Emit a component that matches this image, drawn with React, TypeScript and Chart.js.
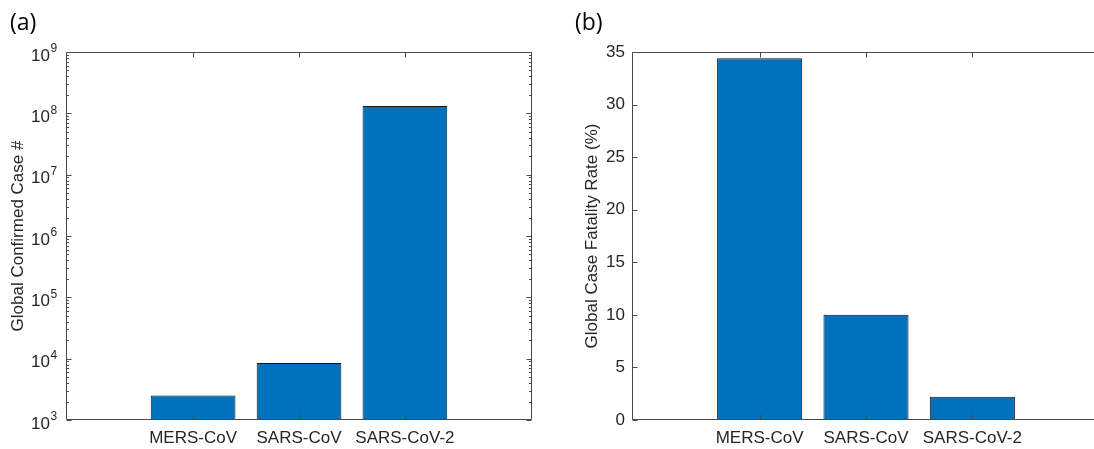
import React, { useEffect, useRef } from 'react';
import { Chart, registerables } from 'chart.js';

Chart.register(...registerables);

// ---- data ----
const categories = ['MERS-CoV', 'SARS-CoV', 'SARS-CoV-2'];
const categoryPositions = [1, 2, 3];
const confirmedCases = [2519, 8500, 132000000];
const fatalityRates = [34.4, 10.0, 2.2];
const logTickExponents = [3, 4, 5, 6, 7, 8, 9];
const fatalityTicks = [0, 5, 10, 15, 20, 25, 30, 35];
const leftTitle = 'Global Confirmed Case #';
const rightTitle = 'Global Case Fatality Rate (%)';
const panelLabels = ['(a)', '(b)'];

const FONT = '"Liberation Sans", Arial, Helvetica, sans-serif';
const TEXT = '#262626';
const AXIS = '#4a4a4a';
const BAR = '#0072BD';
const BAR_EDGE = '#141414';

type FrameOpts = { log: boolean; yValues: number[]; customLogLabels?: boolean };

function makeFramePlugin(opts: FrameOpts) {
  return {
    id: 'matlabFrame',
    afterDatasetsDraw(chart: any) {
      const { ctx, chartArea } = chart;
      const { left, right, top, bottom } = chartArea;
      const xs = chart.scales.x;
      const ys = chart.scales.y;
      const L = Math.round(left) + 0.5;
      const R = Math.round(right) - 0.5;
      const T = Math.round(top) + 0.5;
      const B = Math.round(bottom) - 0.5;
      const major = 5;
      const minor = 2.5;
      ctx.save();
      ctx.strokeStyle = AXIS;
      ctx.lineWidth = 1;
      ctx.beginPath();
      categoryPositions.forEach((v) => {
        const px = Math.round(xs.getPixelForValue(v)) + 0.5;
        ctx.moveTo(px, B);
        ctx.lineTo(px, B - major);
        ctx.moveTo(px, T);
        ctx.lineTo(px, T + major);
      });
      opts.yValues.forEach((v) => {
        const py = Math.round(ys.getPixelForValue(v)) + 0.5;
        ctx.moveTo(L, py);
        ctx.lineTo(L + major, py);
        ctx.moveTo(R, py);
        ctx.lineTo(R - major, py);
      });
      if (opts.log) {
        for (let i = 0; i < opts.yValues.length - 1; i++) {
          for (let m = 2; m <= 9; m++) {
            const py = Math.round(ys.getPixelForValue(opts.yValues[i] * m)) + 0.5;
            ctx.moveTo(L, py);
            ctx.lineTo(L + minor, py);
            ctx.moveTo(R, py);
            ctx.lineTo(R - minor, py);
          }
        }
      }
      ctx.stroke();
      ctx.beginPath();
      ctx.moveTo(L, T);
      ctx.lineTo(R, T);
      ctx.lineTo(R, B);
      ctx.lineTo(L, B);
      ctx.closePath();
      ctx.stroke();

      if (opts.customLogLabels) {
        ctx.fillStyle = TEXT;
        logTickExponents.forEach((e) => {
          const py = ys.getPixelForValue(Math.pow(10, e));
          const xEnd = left - 16;
          ctx.font = `17px ${FONT}`;
          ctx.textAlign = 'right';
          ctx.textBaseline = 'middle';
          ctx.fillText('10', xEnd, py + 4);
          ctx.font = `12px ${FONT}`;
          ctx.textAlign = 'left';
          ctx.fillText(String(e), xEnd + 0.5, py - 3);
        });
      }
      ctx.restore();
    },
  };
}

function xScale(axisHeight: number) {
  return {
    type: 'linear' as const,
    min: -0.2,
    max: 4.2,
    offset: false,
    grid: { display: false, drawTicks: false, offset: false },
    border: { display: false },
    afterBuildTicks: (scale: any) => {
      scale.ticks = categoryPositions.map((v) => ({ value: v }));
    },
    afterFit: (scale: any) => {
      scale.height = axisHeight;
    },
    ticks: {
      autoSkip: false,
      maxRotation: 0,
      padding: 8,
      color: TEXT,
      font: { family: FONT, size: 17 },
      callback: (v: any) => {
        const i = categoryPositions.indexOf(Number(v));
        return i >= 0 ? categories[i] : '';
      },
    },
  };
}

function useChart(ref: React.RefObject<HTMLCanvasElement | null>, build: () => any) {
  useEffect(() => {
    if (!ref.current) return;
    const chart = new Chart(ref.current, build());
    return () => chart.destroy();
  }, []);
}

const barDataset = (values: number[]) => ({
  data: categoryPositions.map((x, i) => ({ x, y: values[i] })),
  backgroundColor: BAR,
  borderColor: BAR_EDGE,
  borderWidth: 1,
  borderSkipped: false,
  barPercentage: 0.8,
  categoryPercentage: 1,
});

export default function App() {
  const leftRef = useRef<HTMLCanvasElement | null>(null);
  const rightRef = useRef<HTMLCanvasElement | null>(null);

  useChart(leftRef, () => ({
    type: 'bar',
    data: { datasets: [barDataset(confirmedCases)] },
    options: {
      responsive: false,
      animation: false,
      layout: { padding: { top: 52, right: 28, left: 0, bottom: 0 } },
      plugins: { legend: { display: false }, tooltip: { enabled: false } },
      scales: {
        x: xScale(29),
        y: {
          type: 'logarithmic',
          min: 1e3,
          max: 1e9,
          grid: { display: false, drawTicks: false },
          border: { display: false },
          ticks: { display: false },
          afterFit: (scale: any) => {
            scale.width = 66;
          },
          title: {
            display: true,
            text: leftTitle,
            color: TEXT,
            font: { family: FONT, size: 17 },
            padding: { top: 8, bottom: 0 },
          },
        },
      },
    },
    plugins: [makeFramePlugin({ log: true, yValues: logTickExponents.map((e) => Math.pow(10, e)), customLogLabels: true })],
  }));

  useChart(rightRef, () => ({
    type: 'bar',
    data: { datasets: [barDataset(fatalityRates)] },
    options: {
      responsive: false,
      animation: false,
      layout: { padding: { top: 52, right: 20, left: 0, bottom: 0 } },
      plugins: { legend: { display: false }, tooltip: { enabled: false } },
      scales: {
        x: xScale(29),
        y: {
          type: 'linear',
          min: 0,
          max: 35,
          grid: { display: false, drawTicks: false },
          border: { display: false },
          afterBuildTicks: (scale: any) => {
            scale.ticks = fatalityTicks.map((v) => ({ value: v }));
          },
          ticks: {
            padding: 7,
            color: TEXT,
            font: { family: FONT, size: 17 },
          },
          afterFit: (scale: any) => {
            scale.width = 72;
          },
          title: {
            display: true,
            text: rightTitle,
            color: TEXT,
            font: { family: FONT, size: 17 },
            padding: { top: 22, bottom: 0 },
          },
        },
      },
    },
    plugins: [makeFramePlugin({ log: false, yValues: fatalityTicks })],
  }));

  const panelStyle: React.CSSProperties = {
    position: 'absolute',
    top: 6,
    fontFamily: '"Open Sans", "Noto Sans", sans-serif',
    fontSize: 23,
    lineHeight: '30px',
    color: '#000',
  };

  return (
    <div
      style={{
        position: 'fixed',
        left: 0,
        top: 0,
        width: 1094,
        height: 449,
        overflow: 'hidden',
        background: '#fff',
      }}
    >
      <canvas
        ref={leftRef}
        width={560}
        height={449}
        style={{ position: 'absolute', left: 0, top: 0, width: 560, height: 449 }}
      />
      <canvas
        ref={rightRef}
        width={560}
        height={449}
        style={{ position: 'absolute', left: 560, top: 0, width: 560, height: 449 }}
      />
      <div style={{ ...panelStyle, left: 10 }}>{panelLabels[0]}</div>
      <div style={{ ...panelStyle, left: 575 }}>{panelLabels[1]}</div>
    </div>
  );
}
